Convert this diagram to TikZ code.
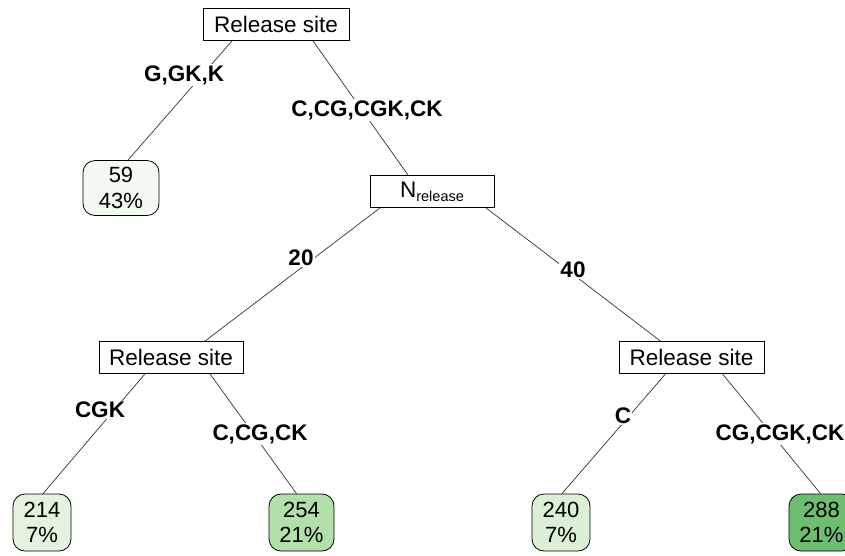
\documentclass[tikz,border=0pt]{standalone}
\usepackage{fontspec}
\setmainfont{Liberation Sans}
\usetikzlibrary{backgrounds}
\definecolor{gA}{HTML}{F3FAF1}
\definecolor{gB}{HTML}{E3F3DE}
\definecolor{gC}{HTML}{B2DFAA}
\definecolor{gD}{HTML}{DBF0D5}
\definecolor{gE}{HTML}{6DBE6F}
\definecolor{edgegray}{HTML}{333333}
\tikzset{
  inner/.style={draw=black, line width=0.8pt, fill=white, rectangle, inner sep=0pt,
    minimum height=32pt, font=\fontsize{22.5}{26}\selectfont},
  leafbox/.style={draw=black, line width=0.8pt, rounded corners=12pt, inner sep=0pt,
    minimum height=55pt, align=center, font=\fontsize{22}{25.5}\selectfont},
  edgelab/.style={fill=white, inner sep=1pt, font=\bfseries\fontsize{22.5}{26}\selectfont},
  edge/.style={draw=edgegray, line width=0.7pt}
}
\begin{document}
\begin{tikzpicture}[x=1pt,y=-1pt]
\useasboundingbox (0,0) rectangle (845,555);
% inner nodes
\node[inner, minimum width=146pt] (root) at (276,24.5) {Release site};
\node[inner, minimum width=124pt] (nrel) at (432,191.5) {N\raisebox{-0.35ex}{\fontsize{14.5}{15}\selectfont release}};
\node[inner, minimum width=144pt] (rsl) at (171,357.5) {Release site};
\node[inner, minimum width=145pt] (rsr) at (691.5,357.5) {Release site};
% leaves
\node[leafbox, fill=gA, minimum width=76pt] (l59) at (121,188) {59\\43\%};
\node[leafbox, fill=gB, minimum width=58pt, minimum height=57pt] (l214) at (42,522.5) {214\\7\%};
\node[leafbox, fill=gC, minimum width=65pt, minimum height=57pt] (l254) at (301.5,522.5) {254\\21\%};
\node[leafbox, fill=gD, minimum width=58pt, minimum height=57pt] (l240) at (561,522.5) {240\\7\%};
\node[leafbox, fill=gE, minimum width=65pt, minimum height=57pt] (l288) at (821.5,522.5) {288\\21\%};
% edge end points
\coordinate (e1a) at ([xshift=-44pt]root.south);
\coordinate (e1b) at ([xshift=7pt]l59.north);
\coordinate (e2a) at ([xshift=37pt]root.south);
\coordinate (e2b) at ([xshift=-24pt]nrel.north);
\coordinate (e3a) at ([xshift=-52pt]nrel.south);
\coordinate (e3b) at ([xshift=34pt]rsl.north);
\coordinate (e4a) at ([xshift=54pt]nrel.south);
\coordinate (e4b) at ([xshift=-31pt]rsr.north);
\coordinate (e5a) at ([xshift=-26pt]rsl.south);
\coordinate (e5b) at ([xshift=1pt]l214.north);
\coordinate (e6a) at ([xshift=39pt]rsl.south);
\coordinate (e6b) at ([xshift=-5pt]l254.north);
\coordinate (e7a) at ([xshift=-26pt]rsr.south);
\coordinate (e7b) at ([xshift=1pt]l240.north);
\coordinate (e8a) at ([xshift=31pt]rsr.south);
\coordinate (e8b) at ([xshift=-1pt]l288.north);
\begin{scope}[on background layer]
\draw[edge] (e1a) -- (e1b);
\draw[edge] (e2a) -- (e2b);
\draw[edge] (e3a) -- (e3b);
\draw[edge] (e4a) -- (e4b);
\draw[edge] (e5a) -- (e5b);
\draw[edge] (e6a) -- (e6b);
\draw[edge] (e7a) -- (e7b);
\draw[edge] (e8a) -- (e8b);
\end{scope}
% edge labels
\node[edgelab] (t1) at (184,75) {G,GK,K};
\node[edgelab] (t2) at (367,110) {C,CG,CGK,CK};
\node[edgelab] (t3) at (301,258) {20};
\node[edgelab] (t4) at (573,270) {40};
\node[edgelab] (t5) at (100,410) {CGK};
\node[edgelab] (t6) at (260,434) {C,CG,CK};
\node[edgelab] (t7) at (623,416) {C};
\node[edgelab] (t8) at (780,434) {CG,CGK,CK};
\end{tikzpicture}
\end{document}
